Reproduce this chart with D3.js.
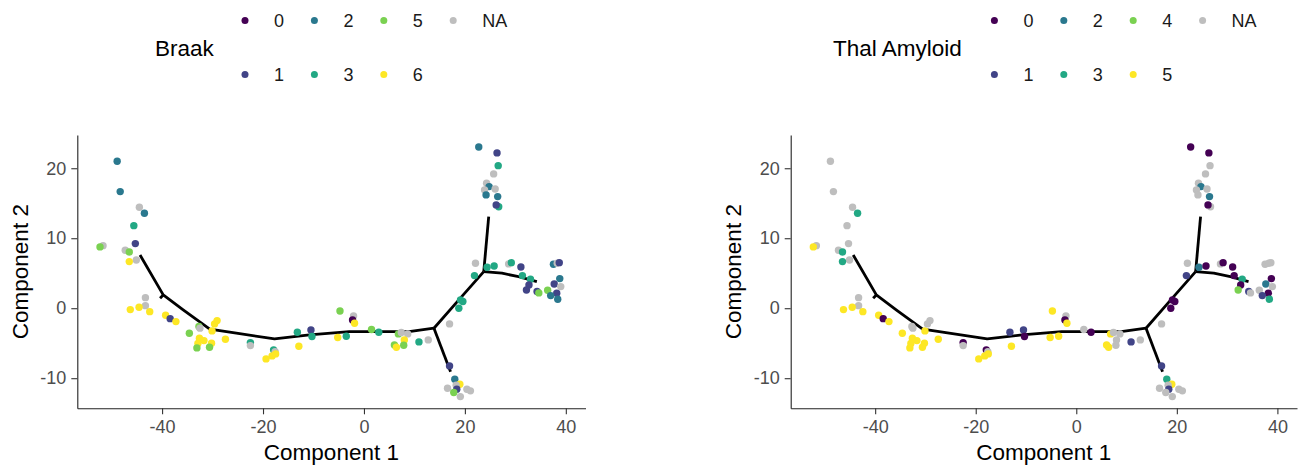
<!DOCTYPE html>
<html>
<head>
<meta charset="utf-8">
<script src="https://cdn.jsdelivr.net/npm/d3@7"></script>
<style>
  body { margin: 0; background: #fff; }
  svg { font-family: "Liberation Sans", Arial, sans-serif; }
</style>
</head>
<body>
<div id="container"></div>
<script>
/* DATA */
// cell coordinates (same cells in both panels)
const comp1 = [
  -48.9,-48.3,-44.5,-43.5,-45.6,-45.3,-51.7,-52.3,-47.3,-46.5,-45.1,-46.5,
  -43.3,-43.3,-44.56,-46.3,-42.45,-39.3,-38.4,-37.26,-34.6,-32.7,-32.5,-30.1,-29.6,-29.1,-27.45,-32.6,-31.7,-30.2,-32.9,-33.1,-30.6,
  -22.5,-22.5,-17.9,-17.6,-17.5,-18.2,-19.4,-13.2,-12.9,-10.5,-10.3,-4.75,-2.06,-2.26,-1.86,-5.2,-3.5,1.5,2.94,6.82,7.4,8.67,8.0,6.03,6.43,7.88,10.9,12.74,
  19.13,19.6,18.8,16.96,21.9,22.1,24.4,25.8,28.67,29.2,31.1,31.4,33.0,32.7,32.2,34.3,34.65,36.4,37.7,39.0,38.8,38.2,37.0,38.4,37.55,38.3,38.7,
  22.75,26.37,26.6,25.7,24.3,24.8,26.0,23.9,24.2,26.5,26.7,26.2,
  16.96,18.0,19.0,16.56,18.27,18.4,17.8,19.1,20.4,21.1
];
const comp2 = [
  21.0,16.66,14.43,13.57,11.8,9.23,8.94,8.76,8.29,8.04,6.9,6.66,
  1.51,0.37,0.14,-0.2,-0.49,-1.0,-1.49,-1.91,-3.57,-2.6,-2.85,-3.24,-2.24,-1.77,-4.43,-4.29,-4.63,-5.0,-5.05,-5.67,-5.57,
  -4.91,-5.34,-5.95,-6.2,-6.53,-6.81,-7.24,-3.43,-5.43,-3.1,-4.05,-0.39,-1.1,-1.67,-2.15,-4.19,-4.0,-3.05,-3.43,-3.67,-3.48,-3.67,-4.53,-5.24,-5.57,-5.29,-4.81,-4.53,
  1.19,0.95,0.0,-2.24,4.66,6.43,5.86,6.04,6.33,6.51,5.9,4.66,4.14,3.33,2.61,2.4,2.19,2.57,3.47,3.09,4.23,2.14,1.8,1.29,6.29,6.43,6.51,
  23.04,22.19,20.37,19.19,17.86,17.38,17.04,16.9,16.19,15.95,14.5,14.76,
  -8.24,-10.14,-10.86,-11.43,-11.0,-11.57,-12.05,-12.63,-11.57,-11.81
];
const braak = [
  2,2,"NA",2,3,1,"NA",5,"NA",5,"NA",6,
  "NA","NA",6,6,6,6,1,6,5,5,"NA",6,6,6,6,6,6,6,6,5,5,
  3,"NA",3,"NA",6,6,6,3,6,1,3,5,"NA",0,6,6,3,5,3,5,"NA","NA",6,5,6,5,3,"NA",
  3,3,3,"NA",3,"NA",3,3,"NA",3,1,3,3,1,1,1,5,5,1,"NA",2,1,2,2,2,"NA",1,
  2,1,3,"NA","NA",2,"NA","NA",2,2,3,1,
  1,2,6,"NA","NA",1,5,"NA","NA","NA"
];
const thal = [
  "NA","NA","NA",3,"NA","NA","NA",5,"NA",3,"NA",3,
  "NA","NA",5,5,5,5,0,5,5,"NA","NA",5,"NA","NA",5,5,5,5,5,5,5,
  0,"NA",0,"NA",5,5,5,1,5,1,0,5,"NA",0,5,5,5,"NA",0,5,"NA","NA","NA",5,5,"NA",1,"NA",
  0,0,0,"NA",1,"NA",2,0,"NA",0,0,0,3,0,4,1,"NA","NA",2,"NA",0,0,1,3,"NA","NA","NA",
  0,0,"NA","NA","NA",2,"NA","NA","NA",2,"NA",0,
  1,3,5,"NA","NA",1,"NA","NA","NA","NA"
];
const braakLevels = ["0","1","2","3","5","6","NA"];
const thalLevels = ["0","1","2","3","4","5","NA"];
const viridis6 = ["#440154","#414487","#2A788E","#22A884","#7AD151","#FDE725"];
const naColor = "#BEBEBE";

// trajectory tree (principal graph)
const trajectory = [
  [[-44.37,7.61],[-39.77,1.9],[-35.82,-0.24],[-30.55,-3.0],[-25.28,-3.57],[-17.72,-4.39],[-10.81,-3.81],[-2.91,-3.34],[3.66,-3.34],[8.93,-3.34],[13.87,-2.86]],
  [[-39.77,1.9],[-40.4,1.43]],
  [[13.87,-2.86],[17.16,-9.06]],
  [[13.87,-2.86],[18.8,1.19],[23.74,5.23]],
  [[23.74,5.23],[24.72,13.09]],
  [[23.74,5.23],[27.35,5.0],[30.65,4.51],[34.26,3.8]]
];
const xTicks = [-40,-20,0,20,40];
const yTicks = [-10,0,10,20];

/* LAYOUT */
const W = 1298, H = 466;
const plotTop = 135, plotBottom = 408.3;

const svg = d3.select("#container").append("svg")
  .attr("width", W).attr("height", H);

function panel(left, right, values, levels, title, titleX) {
  const color = d3.scaleOrdinal().domain(levels).range(viridis6.concat([naColor]));
  const x = d3.scaleLinear().domain([-56.8, 43.9]).range([left, right]);
  const y = d3.scaleLinear().domain([-14.3, 24.75]).range([plotBottom, plotTop]);
  const g = svg.append("g");

  // axes (plain hyphen for negatives, like the R output)
  const fmt = d => String(d);
  const xAxis = g.append("g").attr("transform", `translate(0,${plotBottom})`)
    .call(d3.axisBottom(x).tickValues(xTicks).tickFormat(fmt).tickSizeInner(6).tickSizeOuter(0).tickPadding(6));
  const yAxis = g.append("g").attr("transform", `translate(${left},0)`)
    .call(d3.axisLeft(y).tickValues(yTicks).tickFormat(fmt).tickSizeInner(6).tickSizeOuter(0).tickPadding(5));
  [xAxis, yAxis].forEach(a => {
    a.select(".domain").attr("stroke", "#222").attr("stroke-width", 1.1);
    a.selectAll(".tick line").attr("stroke", "#333").attr("stroke-width", 1.1);
    a.selectAll(".tick text").attr("fill", "#4D4D4D").style("font-size", "18px")
      .style("font-family", "'Liberation Sans', Arial, sans-serif");
  });

  g.append("text").attr("x", (left + right) / 2).attr("y", 460)
    .attr("text-anchor", "middle").style("font-size", "22.5px").text("Component 1");
  g.append("text").attr("transform", `translate(${left - 49.5},${(plotTop + plotBottom) / 2}) rotate(-90)`)
    .attr("text-anchor", "middle").style("font-size", "22.5px").text("Component 2");

  // trajectory
  const line = d3.line().x(d => x(d[0])).y(d => y(d[1]));
  g.selectAll("path.traj").data(trajectory).join("path")
    .attr("class", "traj").attr("d", line)
    .attr("fill", "none").attr("stroke", "#000").attr("stroke-width", 2.8)
    .attr("stroke-linejoin", "round");

  // cells
  g.selectAll("circle.cell").data(comp1.map((c, i) => i)).join("circle")
    .attr("class", "cell")
    .attr("cx", i => x(comp1[i]))
    .attr("cy", i => y(comp2[i]))
    .attr("r", 3.7)
    .attr("fill", i => color(String(values[i])));

  // legend
  const lg = svg.append("g");
  lg.append("text").attr("x", titleX).attr("y", 56).style("font-size", "22.5px").text(title);
  const keyX = titleX + (title === "Braak" ? 90 : 161.4);
  levels.forEach((lv, i) => {
    const cx = keyX + Math.floor(i / 2) * 69.4;
    const cy = i % 2 === 0 ? 20.5 : 74.5;
    lg.append("circle").attr("cx", cx).attr("cy", cy).attr("r", 3.5).attr("fill", color(lv));
    lg.append("text").attr("x", cx + 29).attr("y", cy + 6.5)
      .style("font-size", "18px").attr("fill", "#1a1a1a").text(lv);
  });
}

panel(77.3, 585.5, braak, braakLevels, "Braak", 155);
panel(790.7, 1297, thal, thalLevels, "Thal Amyloid", 833);
</script>
</body>
</html>
